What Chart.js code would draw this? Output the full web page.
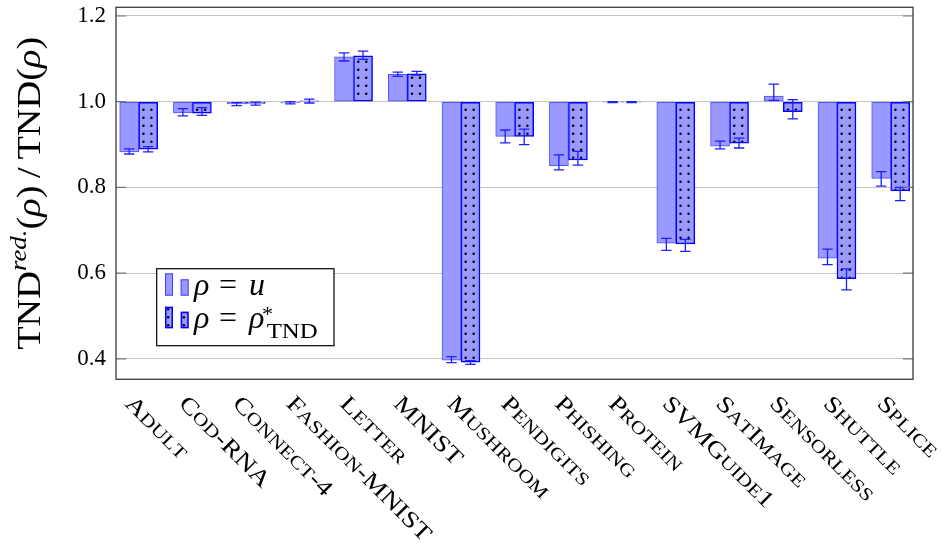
<!DOCTYPE html>
<html><head><meta charset="utf-8">
<script src="https://cdn.jsdelivr.net/npm/chart.js@4/dist/chart.umd.min.js"></script>
<style>html,body{margin:0;padding:0;background:#fff;} #wrap{width:943px;height:550px;}</style>
</head><body><div id="wrap"><canvas id="c" width="943" height="550"></canvas></div>
<script>
// ---------------- data ----------------
const categories = ['Adult','Cod-RNA','Connect-4','Fashion-MNIST','Letter','MNIST','Mushroom','Pendigits','Phishing','Protein','SVMGuide1','SatImage','Sensorless','Shuttle','Splice'];
const yTicks = [0.4, 0.6, 0.8, 1.0, 1.2];
const baseValue = 1.0;
// rho = u
const uVals  = [0.883, 0.974, 0.995, 0.997, 1.105, 1.064, 0.397, 0.919, 0.851, 0.999, 0.670, 0.896, 1.013, 0.635, 0.821];
const uLow   = [0.878, 0.967, 0.991, 0.995, 1.095, 1.059, 0.391, 0.904, 0.841, 0.998, 0.653, 0.890, 1.003, 0.620, 0.803];
const uHigh  = [0.890, 0.984, 0.998, 1.000, 1.114, 1.069, 0.405, 0.934, 0.876, 1.000, 0.681, 0.908, 1.041, 0.656, 0.837];
// rho = rho*_TND
const tVals  = [0.889, 0.973, 0.996, 1.002, 1.107, 1.065, 0.392, 0.919, 0.864, 0.999, 0.668, 0.903, 0.977, 0.587, 0.792];
const tLow   = [0.883, 0.968, 0.992, 0.997, 1.099, 1.062, 0.387, 0.900, 0.852, 0.998, 0.651, 0.892, 0.960, 0.561, 0.769];
const tHigh  = [0.895, 0.986, 0.999, 1.006, 1.118, 1.071, 0.396, 0.936, 0.884, 1.000, 0.679, 0.915, 1.005, 0.610, 0.800];
const seriesLabels = ['ρ = u', 'ρ = ρ*_TND'];

// ---------------- style ----------------
const SERIF = "'Liberation Serif','Times New Roman',serif";
const FILL = '#9999ff';
const U_BORDER = 'rgba(50,50,255,0.85)';
const T_BORDER = '#0000ff';
const ERR = '#1f1fff';

function drawDots(ctx, left, top, w, h, baseY, cols) {
  ctx.save();
  ctx.beginPath(); ctx.rect(left + 1.2, top + 1.2, w - 2.4, h - 2.4); ctx.clip();
  ctx.fillStyle = '#000';
  const up = Math.abs(top - baseY) > Math.abs(top + h - baseY);
  for (let k = 0; k < 100; k++) {
    const yy = up ? baseY - 8 * k : baseY + 8 * k;
    if (yy < top - 3 || yy > top + h + 3) break;
    for (const dx of cols) { ctx.beginPath(); ctx.arc(left + dx, yy, 1.25, 0, Math.PI * 2); ctx.fill(); }
  }
  ctx.restore();
}

function drawSmallCaps(ctx, text, size, x, y) {
  let cx = x;
  for (const ch of text) {
    const lower = ch !== ch.toUpperCase();
    ctx.font = (lower ? size * 0.78 : size) + 'px ' + SERIF;
    const c = ch.toUpperCase();
    ctx.fillText(c, cx, y);
    cx += ctx.measureText(c).width;
  }
}

const decor = {
  id: 'decor',
  afterDatasetDraw(chart, args) {
    if (args.index !== 1) return;
    const ctx = chart.ctx;
    const ys = chart.scales.y;
    const baseY = ys.getPixelForValue(baseValue);
    args.meta.data.forEach(el => {
      const p = el.getProps(['x', 'y', 'base', 'width'], true);
      const left = p.x - p.width / 2, top = Math.min(p.y, p.base), h = Math.abs(p.y - p.base);
      if (h > 3) drawDots(ctx, left, top, p.width, h, baseY, [4.7, 12.7]);
    });
  },
  afterDatasetsDraw(chart) {
    const ctx = chart.ctx, ys = chart.scales.y, a = chart.chartArea;
    const sets = [[uLow, uHigh], [tLow, tHigh]];
    sets.forEach((lh, di) => {
      const meta = chart.getDatasetMeta(di);
      meta.data.forEach((el, i) => {
        const x = el.getProps(['x'], true).x;
        const y1 = ys.getPixelForValue(lh[0][i]), y2 = ys.getPixelForValue(lh[1][i]);
        ctx.save();
        ctx.strokeStyle = ERR; ctx.lineWidth = 1.3;
        ctx.beginPath();
        ctx.moveTo(x, y1); ctx.lineTo(x, y2);
        ctx.moveTo(x - 5.2, y1); ctx.lineTo(x + 5.2, y1);
        ctx.moveTo(x - 5.2, y2); ctx.lineTo(x + 5.2, y2);
        ctx.stroke();
        ctx.restore();
      });
    });
    ctx.save();
    ctx.strokeStyle = '#777'; ctx.lineWidth = 1.2;
    yTicks.forEach(v => {
      const y = ys.getPixelForValue(v);
      ctx.beginPath();
      ctx.moveTo(a.left, y); ctx.lineTo(a.left + 10, y);
      ctx.moveTo(a.right, y); ctx.lineTo(a.right - 10, y);
      ctx.stroke();
    });
    ctx.strokeStyle = '#3a3a3a'; ctx.lineWidth = 1.3;
    ctx.strokeRect(a.left, a.top, a.right - a.left, a.bottom - a.top);
    ctx.restore();
  },
  afterDraw(chart) {
    const ctx = chart.ctx, xs = chart.scales.x, a = chart.chartArea;
    ctx.save();
    ctx.fillStyle = '#000'; ctx.textBaseline = 'alphabetic'; ctx.textAlign = 'left';
    categories.forEach((lab, i) => {
      const px = xs.getPixelForValue(i) - 14.7, py = a.bottom + 25.5;
      ctx.save();
      ctx.translate(px, py); ctx.rotate(Math.PI / 4); ctx.scale(1.22, 1);
      drawSmallCaps(ctx, lab, 23, 0, 0);
      ctx.restore();
    });
    ctx.restore();

    // y title: TND^{red.}(rho) / TND(rho)
    const F = 34;
    const segs = [
      {t: 'TND', f: F + 'px ' + SERIF, dy: 0},
      {t: 'red.', f: 'italic ' + (F * 0.7) + 'px ' + SERIF, dy: -F * 0.42},
      {t: '(', f: F + 'px ' + SERIF, dy: 0},
      {t: 'ρ', f: 'italic ' + F + 'px ' + SERIF, dy: 0},
      {t: ')\u2009/\u2009TND(', f: F + 'px ' + SERIF, dy: 0},
      {t: 'ρ', f: 'italic ' + F + 'px ' + SERIF, dy: 0},
      {t: ')', f: F + 'px ' + SERIF, dy: 0}
    ];
    ctx.save();
    let total = 0;
    segs.forEach(s => { ctx.font = s.f; s.w = ctx.measureText(s.t).width; total += s.w; });
    const target = 313, sx = target / total;
    ctx.translate(40, (a.top + a.bottom) / 2 + target / 2);
    ctx.rotate(-Math.PI / 2);
    ctx.scale(sx, 1);
    ctx.fillStyle = '#000'; ctx.textBaseline = 'alphabetic';
    let cx = 0;
    segs.forEach(s => { ctx.font = s.f; ctx.fillText(s.t, cx, s.dy); cx += s.w; });
    ctx.restore();

    // legend
    ctx.save();
    ctx.fillStyle = '#fff'; ctx.fillRect(156.7, 268.7, 177.3, 77);
    ctx.strokeStyle = '#000'; ctx.lineWidth = 1.2;
    ctx.strokeRect(156.7, 268.7, 177.3, 77);
    const icon = (x, y0, y1, border, bw, dots) => {
      ctx.fillStyle = FILL; ctx.fillRect(x, y0, 8, y1 - y0);
      if (dots) drawDots(ctx, x, y0, 8, y1 - y0, y1 - 3, [3.2]);
      ctx.strokeStyle = border; ctx.lineWidth = bw;
      ctx.strokeRect(x + bw / 2, y0 + bw / 2, 8 - bw, y1 - y0 - bw);
    };
    icon(165, 273.3, 295.7, U_BORDER, 1, false);
    icon(180.7, 279.3, 295.7, U_BORDER, 1, false);
    icon(165, 306.7, 328.3, T_BORDER, 1.5, true);
    icon(180.7, 311.7, 328.3, T_BORDER, 1.5, true);
    ctx.fillStyle = '#000'; ctx.textBaseline = 'alphabetic';
    const LF = 32;
    ctx.font = 'italic ' + LF + 'px ' + SERIF; ctx.fillText('ρ', 194, 295);
    ctx.font = LF + 'px ' + SERIF; ctx.fillText('=', 219, 295);
    ctx.font = 'italic ' + LF + 'px ' + SERIF; ctx.fillText('u', 249, 295);
    ctx.font = 'italic ' + LF + 'px ' + SERIF; ctx.fillText('ρ', 194, 328);
    ctx.font = LF + 'px ' + SERIF; ctx.fillText('=', 219, 328);
    ctx.font = 'italic ' + LF + 'px ' + SERIF; ctx.fillText('ρ', 249, 328);
    ctx.font = '22px ' + SERIF; ctx.fillText('*', 262, 321);
    ctx.save();
    ctx.font = '20px ' + SERIF;
    const tw = ctx.measureText('TND').width;
    ctx.translate(266.7, 338); ctx.scale(51 / tw, 1);
    ctx.fillText('TND', 0, 0);
    ctx.restore();
    ctx.restore();
  }
};

const toPts = arr => arr.map((v, i) => ({x: i, y: v}));

new Chart(document.getElementById('c'), {
  type: 'bar',
  data: {
    datasets: [
      {label: seriesLabels[0], data: toPts(uVals), base: baseValue, backgroundColor: FILL,
       borderColor: U_BORDER, borderWidth: 1, borderSkipped: false, barThickness: 19},
      {label: seriesLabels[1], data: toPts(tVals), base: baseValue, backgroundColor: FILL,
       borderColor: T_BORDER, borderWidth: 1.5, borderSkipped: false, barThickness: 19}
    ]
  },
  options: {
    responsive: false, animation: false, devicePixelRatio: 1,
    layout: {padding: {left: 0, right: 30, top: 7.3, bottom: 170.7}},
    plugins: {legend: {display: false}, tooltip: {enabled: false}},
    scales: {
      x: {type: 'linear', min: -0.4226, max: categories.length - 1 + 0.415, display: false, offset: false,
          grid: {display: false}},
      y: {min: 0.3523, max: 1.2203,
          afterBuildTicks: s => { s.ticks = yTicks.map(v => ({value: v})); },
          afterFit: s => { s.width = 116; s.paddingTop = 0; s.paddingBottom = 0; },
          grid: {color: '#c4c4c4', lineWidth: 1, drawTicks: false},
          border: {display: false},
          ticks: {padding: 10, color: '#000', font: {family: SERIF, size: 23},
                  callback: v => Number(v).toFixed(1)}}
    }
  },
  plugins: [decor]
});
</script>
</body></html>
